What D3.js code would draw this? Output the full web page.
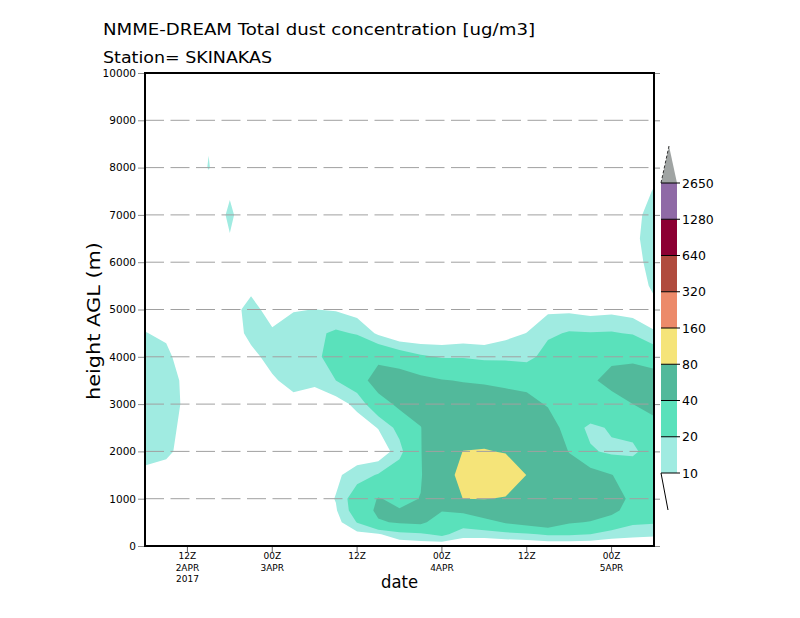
<!DOCTYPE html>
<html><head><meta charset="utf-8">
<script src="https://cdn.jsdelivr.net/npm/d3@7"></script>
<style>body{margin:0;background:#fff}svg{display:block}</style>
</head><body>
<svg id="chart" width="800" height="618"></svg>
<script>
// ---- data ----
// time axis: hours since 2017-04-02 06Z, every 3 hours
const hours = [0,3,6,9,12,15,18,21,24,27,30,33,36,39,42,45,48,51,54,57,60,63,66,69,72];
// model levels (m AGL)
const heights = [0,250,500,750,1000,1500,2000,2500,3000,3500,4000,4500,5000,5500,6000,6500,7000,7500,8000,8500,9000,9500,10000];
// dust concentration profiles (ug/m3), one per time step, bottom to top
const profiles = [
  [2,2,3,3,4,8,13,16,17,16,13,10.3,6,3,2,2,1,1,1,1,1,1,1],
  [2,2,2,3,4,8,11,13,14,14,12,8.5,5,3,2,2,2,1,1,1,1,1,1],
  [1,1,1,2,3,5,8,7,8,7.5,5,4,3,2,2,2,3,4,8.5,4,2,1,1],
  [1,1,1,2,2,3,4,4,4,4,4,5,5,4,4,5,6,9.0,10.1,9.9,5,2,1],
  [1,1,2,2,3,3,4,4,4,4,5,6,7,6,5,9.7,11,9.4,8.5,5,2,1,1],
  [1,1,1,2,2,3,3,4,4,5,8,12,12.5,8,6,5,6,4,3,2,1,1,1],
  [1,1,1,2,2,3,3,4,5,9,12.5,11,7,4,3,3,3,2,2,1,1,1,1],
  [1,1,1,2,2,3,3,4,7.5,12.5,15,14,9.5,5,3,2,2,2,1,1,1,1,1],
  [1,1,2,3,4,4,3,4,6,11.5,17,17.5,10.1,5,3,2,2,1,1,1,1,1,1],
  [1,2,6,9,10.5,8,3,3,5,20,26,22,9,4,3,2,2,1,1,1,1,1,1],
  [2,7,20.5,27,28,15,3,4,13,28,33,19,5,3,2,2,1,1,1,1,1,1,1],
  [2,9,38,44,41,21,2,10.5,30,52,34,8,4,2,2,1,1,1,1,1,1,1,1],
  [3,16,42,41,36,28,16,24,45,52,28,0,0,1,1,1,1,1,1,1,1,1,1],
  [4,18,44,43,40.5,38.5,39,39.5,48,45,22,0,0,1,1,1,1,1,1,1,1,1,1],
  [3,23,30,41,50,62,64,56,50,41,19,1,1,1,1,1,1,1,1,1,1,1,1],
  [2,14,26,44,80.5,92,80.5,62,52,39,19,3,1,1,1,1,1,1,1,1,1,1,1],
  [2,14,32,55,81,105,82,64,50,38,17,3,1,1,1,1,1,1,1,1,1,1,1],
  [2,16,42,60,78,100,78,62,48,36,17,7,2,1,1,1,1,1,1,1,1,1,1],
  [2,18,48,62,72,79.5,70,60,47,33,16,10.2,3,1,1,1,1,1,1,1,1,1,1],
  [2,22,55,60,65,66,60,52,38,30,25,18,8,3,1,1,1,1,1,1,1,1,1],
  [2,22,42,52,58,55,39,30,27,27,27,21,8,3,2,1,1,1,1,1,1,1,1],
  [2,20,39,50,55,48,22,16,38,36,36,20.5,6,3,2,2,1,1,1,1,1,1,1],
  [2,15,30,46,52,40.5,17,22,30,48,35,21,7,3,3,3,3,2,2,1,1,1,1],
  [2,13,22,30,34,32,17,25,40,50,36,19,5,4,8,8.5,8,5,3,2,1,1,1],
  [2,12,21,27,30,30,28,35,45,50,30,10.5,7,12,12,13,12.5,10.6,7,4,2,1,1]
];
const levels = [10,20,40,80,160,320,640,1280,2650];
const levelColors = ["#a0ebe1","#5ae1bb","#52b99b","#f5e479","#ec8a6a","#b04b3e","#8c0033","#8f6aa6","#a0a4a3"];
const yTicks = [0,1000,2000,3000,4000,5000,6000,7000,8000,9000,10000];
const xTickHours = [6,18,30,42,54,66];
const xTickLabels = [["12Z","2APR","2017"],["00Z","3APR"],["12Z"],["00Z","4APR"],["12Z"],["00Z","5APR"]];
const titleText = "NMME-DREAM Total dust concentration [ug/m3]";
const subtitleText = "Station= SKINAKAS";

// ---- drawing ----
const svg = d3.select("#chart");
const P = {left:145, right:654, top:73, bottom:546};
const x = d3.scaleLinear().domain([hours[0], hours[hours.length-1]]).range([P.left, P.right]);
const y = d3.scaleLinear().domain([0, 10000]).range([P.bottom, P.top]);

const n = hours.length, m = heights.length;
const values = new Array(n*m);
for (let j=0;j<m;j++) for (let i=0;i<n;i++) values[j*n+i] = profiles[i][j];
const idxHour = d3.scaleLinear().domain(d3.range(n)).range(hours);
const idxHeight = d3.scaleLinear().domain(d3.range(m)).range(heights);
const proj = d3.geoTransform({point(px, py){
  this.stream.point(x(idxHour(px-0.5)), y(idxHeight(py-0.5)));
}});
const path = d3.geoPath(proj);
const color = d3.scaleThreshold().domain(levels.slice(1)).range(levelColors);

svg.append("defs").append("clipPath").attr("id","clip")
  .append("rect").attr("x",P.left).attr("y",P.top).attr("width",P.right-P.left).attr("height",P.bottom-P.top);

const cont = d3.contours().size([n,m]).thresholds(levels)(values);
svg.append("g").attr("clip-path","url(#clip)")
  .selectAll("path").data(cont).join("path")
  .attr("d", path).attr("fill", d => color(d.value)).attr("stroke","none");

// dashed grid lines
svg.append("g").selectAll("line").data(yTicks.filter(v => v>0 && v<10000)).join("line")
  .attr("x1",P.left).attr("x2",P.right).attr("y1",d=>y(d)).attr("y2",d=>y(d))
  .attr("stroke","#a0a0a0").attr("stroke-width",1).attr("stroke-dasharray","19,6.5");

// left axis
const yAxis = d3.axisLeft(y).tickValues(yTicks).tickSize(7).tickPadding(2).tickFormat(d3.format("d"));
const gy = svg.append("g").attr("transform",`translate(${P.left},0)`).call(yAxis);
gy.select(".domain").remove();
gy.selectAll("line").attr("stroke","#909090");
gy.selectAll("text").attr("font-family","DejaVu Sans").attr("font-size","10.5px").attr("fill","#000");
// right ticks
const gyr = svg.append("g").attr("transform",`translate(${P.right},0)`).call(d3.axisRight(y).tickValues(yTicks).tickSize(6).tickFormat(""));
gyr.select(".domain").remove();
gyr.selectAll("line").attr("stroke","#909090");

// bottom axis
const gx = svg.append("g");
gx.selectAll("line").data(xTickHours).join("line")
  .attr("x1",d=>x(d)).attr("x2",d=>x(d)).attr("y1",P.bottom).attr("y2",P.bottom+6)
  .attr("stroke","#606060");
xTickHours.forEach((h,i) => {
  xTickLabels[i].forEach((s,k) => {
    gx.append("text").attr("x",x(h)).attr("y",P.bottom+13+k*11.7)
      .attr("text-anchor","middle").attr("font-family","DejaVu Sans").attr("font-size","9px").text(s);
  });
});

// frame
svg.append("rect").attr("x",P.left).attr("y",P.top).attr("width",P.right-P.left).attr("height",P.bottom-P.top)
  .attr("fill","none").attr("stroke","#000").attr("stroke-width",2);

// titles
svg.append("text").attr("x",103).attr("y",35).attr("font-family","DejaVu Sans").attr("font-size","16px")
  .attr("textLength",432).attr("lengthAdjust","spacingAndGlyphs").text(titleText);
svg.append("text").attr("x",103).attr("y",63).attr("font-family","DejaVu Sans").attr("font-size","16px")
  .attr("textLength",169).attr("lengthAdjust","spacingAndGlyphs").text(subtitleText);
svg.append("text").attr("x",(P.left+P.right)/2).attr("y",588).attr("text-anchor","middle")
  .attr("font-family","DejaVu Sans").attr("font-size","18px").attr("textLength",37).attr("lengthAdjust","spacingAndGlyphs").text("date");
svg.append("text").attr("transform","translate(100,321) rotate(-90)").attr("text-anchor","middle")
  .attr("font-family","DejaVu Sans").attr("font-size","18px").attr("textLength",158).attr("lengthAdjust","spacingAndGlyphs").text("height AGL (m)");

// colour bar
const cbX = 661, cbW = 16;
const cb = d3.scaleLinear().domain([0, levels.length-1]).range([473, 183]);
const gcb = svg.append("g");
levelColors.slice(0, levels.length-1).forEach((c,i) => {
  gcb.append("rect").attr("x",cbX).attr("y",cb(i+1)).attr("width",cbW).attr("height",cb(i)-cb(i+1)).attr("fill",c);
});
gcb.append("path").attr("d",`M${cbX},${cb(levels.length-1)}L${cbX+cbW/2},146L${cbX+cbW},${cb(levels.length-1)}Z`)
  .attr("fill",levelColors[levelColors.length-1]);
gcb.append("line").attr("x1",cbX).attr("y1",cb(levels.length-1)).attr("x2",cbX+cbW/2).attr("y2",146)
  .attr("stroke","#333").attr("stroke-width",1).attr("stroke-dasharray","3,2");
gcb.append("line").attr("x1",cbX).attr("y1",473).attr("x2",cbX+cbW/2-1).attr("y2",510)
  .attr("stroke","#000").attr("stroke-width",1);
levels.forEach((v,i) => {
  gcb.append("line").attr("x1",cbX).attr("x2",cbX+19).attr("y1",cb(i)).attr("y2",cb(i)).attr("stroke","#000").attr("stroke-width",1);
  gcb.append("text").attr("x",cbX+21).attr("y",cb(i)+4.5).attr("font-family","DejaVu Sans").attr("font-size","12.5px").text(v);
});
</script>
</body></html>
